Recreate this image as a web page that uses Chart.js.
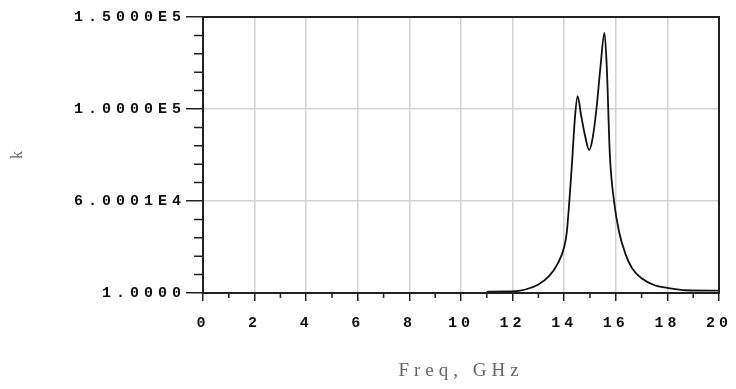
<!DOCTYPE html>
<html>
<head>
<meta charset="utf-8">
<script src="https://cdn.jsdelivr.net/npm/chart.js@4/dist/chart.umd.min.js"></script>
<style>
  html, body { margin: 0; padding: 0; background: #fff; }
  #wrap { width: 736px; height: 389px; }
</style>
</head>
<body>
<div id="wrap"><canvas id="kChart"></canvas></div>
<script>
// k versus frequency
const freq = [0, 11, 11.02, 12.0, 12.5, 13.0, 13.4, 13.75, 14.0, 14.1, 14.2, 14.3, 14.42, 14.52, 14.65, 14.8, 14.97, 15.1, 15.25, 15.4, 15.56, 15.65, 15.77, 15.93, 16.13, 16.38, 16.63, 17.0, 17.5, 18.0, 18.7, 20];
const kValues = [1, 1, 700, 900, 1900, 4600, 9000, 16000, 25000, 33000, 50000, 70000, 96000, 107000, 97000, 86000, 77700, 84000, 100000, 122000, 141300, 123000, 75000, 50000, 33000, 21000, 13500, 8000, 4200, 2800, 1500, 1300];

// axis ticks
const xTicks = [0, 2, 4, 6, 8, 10, 12, 14, 16, 18, 20];
const yTicks = [0, 50000, 100000, 150000];
const yTickLabels = ['1.0000', '6.0001E4', '1.0000E5', '1.5000E5'];

const points = freq.map((f, i) => ({ x: f, y: kValues[i] }));

// spaced-out lettering like the old plotter output
function spaceText(scale, fn, spacing) {
    const orig = scale[fn].bind(scale);
    scale[fn] = function(area) {
        const c = this.ctx;
        const prev = c.letterSpacing;
        c.letterSpacing = spacing;
        orig(area);
        c.letterSpacing = prev;
    };
}

const framePlugin = {
    id: 'frame',
    afterUpdate(chart) {
        const { x, y } = chart.scales;
        if (!x._spaced) {
            spaceText(x, 'drawLabels', '4px');
            spaceText(x, 'drawTitle', '5px');
            spaceText(y, 'drawLabels', '5px');
            x._spaced = true;
        }
    },
    afterDraw(chart) {
        const { ctx, chartArea: a, scales: { x, y } } = chart;
        ctx.save();
        ctx.strokeStyle = '#222';
        ctx.lineWidth = 1.5;
        ctx.beginPath();
        // minor ticks
        for (let v = 1; v < 20; v += 2) {
            const px = x.getPixelForValue(v);
            ctx.moveTo(px, a.bottom);
            ctx.lineTo(px, a.bottom + 5);
        }
        for (let v = 10000; v < 150000; v += 10000) {
            if (v % 50000 === 0) continue;
            const py = y.getPixelForValue(v);
            ctx.moveTo(a.left - 9, py);
            ctx.lineTo(a.left, py);
        }
        ctx.stroke();
        ctx.lineWidth = 2;
        ctx.strokeRect(a.left, a.top, a.right - a.left, a.bottom - a.top);
        ctx.restore();
    }
};

const ctx = document.getElementById('kChart').getContext('2d');
new Chart(ctx, {
    type: 'line',
    data: {
        datasets: [{
            label: 'k',
            data: points,
            borderColor: '#111',
            borderWidth: 1.8,
            pointRadius: 0,
            fill: false,
            tension: 0.4,
            cubicInterpolationMode: 'monotone'
        }]
    },
    options: {
        responsive: true,
        maintainAspectRatio: false,
        animation: false,
        layout: { padding: { top: 17, right: 17, left: 0, bottom: 0 } },
        plugins: {
            legend: { display: false },
            tooltip: { enabled: false }
        },
        scales: {
            x: {
                type: 'linear',
                min: 0,
                max: 20,
                afterBuildTicks: s => { s.ticks = xTicks.map(v => ({ value: v })); },
                afterFit: s => { s.height = 96; s.paddingLeft = 0; s.paddingRight = 0; },
                grid: { color: '#d2d2d2', lineWidth: 1.5, tickColor: '#222', tickLength: 8 },
                border: { color: '#222', width: 2 },
                ticks: {
                    color: '#111',
                    padding: 13,
                    maxRotation: 0,
                    font: { family: 'Liberation Mono', weight: 'bold', size: 15 },
                    callback: v => String(v)
                },
                title: {
                    display: true,
                    text: 'Freq, GHz',
                    color: '#666',
                    padding: { top: 0, bottom: 7 },
                    font: { family: 'Liberation Serif', size: 19 }
                }
            },
            y: {
                min: 0,
                max: 150000,
                afterBuildTicks: s => { s.ticks = yTicks.map(v => ({ value: v })); },
                afterFit: s => { s.width = 203; s.paddingTop = 0; s.paddingBottom = 0; },
                grid: { color: '#d2d2d2', lineWidth: 1.5, tickColor: '#222', tickLength: 17 },
                border: { color: '#222', width: 2 },
                ticks: {
                    color: '#111',
                    padding: 0,
                    font: { family: 'Liberation Mono', weight: 'bold', size: 15 },
                    callback: (v, i) => yTickLabels[i]
                },
                title: {
                    display: true,
                    text: 'k',
                    color: '#666',
                    padding: { top: 8, bottom: 0 },
                    font: { family: 'Liberation Serif', size: 16 }
                }
            }
        }
    },
    plugins: [framePlugin]
});
</script>
</body>
</html>
